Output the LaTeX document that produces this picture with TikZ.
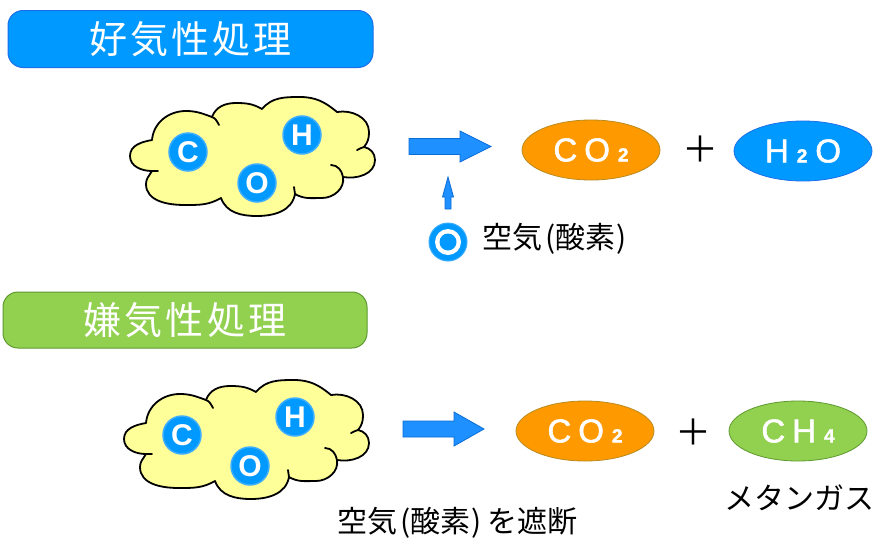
\documentclass[tikz,border=0pt]{standalone}
\usepackage{fontspec}
\setmainfont{Liberation Sans}
\newfontfamily\jp{Noto Sans CJK JP}
\newfontfamily\jpls{Noto Sans CJK JP}[LetterSpace=8]
\newfontfamily\molfont{Liberation Sans}[FakeBold=1.6]
\usetikzlibrary{shapes.geometric}
\definecolor{skyb}{HTML}{0099FF}
\definecolor{atomedge}{HTML}{3DADFF}
\definecolor{titleedge}{HTML}{1A6FE8}
\definecolor{arrowb}{HTML}{1E90FF}
\definecolor{arrowedge}{HTML}{0B6CD6}
\definecolor{orangef}{HTML}{FF9900}
\definecolor{orangee}{HTML}{B88A1E}
\definecolor{greenf}{HTML}{92D050}
\definecolor{greene}{HTML}{5E9A2E}
\definecolor{cloudy}{HTML}{FFFF99}
\newcommand\subdigit[1]{{\fontsize{19}{19}\selectfont\bfseries #1}}
\begin{document}
\begin{tikzpicture}[x=1pt,y=1pt,
  titlebox/.style={rounded corners=15pt, minimum width=365pt, minimum height=57pt, inner sep=0pt, line width=1pt, text=white, font=\jpls\fontsize{38}{38}\selectfont},
  atom/.style={circle, minimum size=38pt, inner sep=0pt, fill=skyb, draw=atomedge, line width=1.5pt, text=white, font=\fontsize{30}{30}\selectfont\bfseries},
  mol/.style={ellipse, minimum width=138pt, minimum height=60pt, inner sep=0pt, line width=0.8pt, text=white, font=\molfont\fontsize{33}{33}\selectfont},
  cloudline/.style={draw=black, line width=1.8pt, fill=cloudy, line join=round},
  cloudstroke/.style={draw=black, line width=1.8pt, line cap=round},
  blockarrow/.style={fill=arrowb, draw=arrowedge, line width=0.8pt, line join=miter},
  jlabel/.style={font=\jp\fontsize{30}{30}\selectfont, inner sep=0pt},
  pics/cloudpic/.style={code={
    \draw[cloudline] (152,-171) to[out=180,in=-90] (130,-156) to[out=90,in=190] (152,-140)
      to[out=85,in=180] (186,-111) to[out=0,in=160] (212,-117)
      to[out=70,in=180] (236,-103) to[out=0,in=150] (262,-109)
      to[out=50,in=180] (300,-97) to[out=0,in=140] (337,-112)
      to[out=10,in=90] (369,-132) to[out=-90,in=50] (364,-147)
      to[out=-10,in=90] (375,-160) to[out=-90,in=-10] (343,-177)
      to[out=-80,in=0] (322,-198) to[out=180,in=-30] (295,-194)
      to[out=-100,in=0] (257,-216) to[out=180,in=-70] (221,-198)
      to[out=-150,in=0] (185,-205) to[out=180,in=-90] (146,-184)
      to[out=90,in=-120] (152,-171) -- cycle;
    \draw[cloudstroke] (212,-117) to[out=-20,in=120] (219,-125);
    \draw[cloudstroke] (364,-147) to[out=190,in=20] (357,-150);
    \draw[cloudstroke] (343,-177) to[out=100,in=0] (331,-165);
    \draw[cloudstroke] (295,-194) -- (294,-187);
    \draw[cloudstroke] (152,-171) -- (158,-171);
  }}
]
\useasboundingbox (0,0) rectangle (877,-538);

% ---------- aerobic ----------
\node[titlebox, fill=skyb, draw=titleedge] (aerobic) at (190.5,-39) {好気性処理};

\pic (cloudA) at (0,0) {cloudpic};
\node[atom] (cA) at (188,-152) {C};
\node[atom] (hA) at (302,-135) {H};
\node[atom] (oA) at (257,-183) {O};

\draw[blockarrow] (409,-138.5) -- (460,-138.5) -- (460,-131) -- (491,-146.5) -- (460,-162) -- (460,-154.5) -- (409,-154.5) -- cycle;

\node[circle, minimum size=38pt, inner sep=0pt, fill=skyb, draw=atomedge, line width=1pt] (air) at (448,-242) {};
\node[circle, minimum size=26pt, inner sep=0pt, fill=white] (airring) at (air) {};
\node[circle, minimum size=17pt, inner sep=0pt, fill=skyb] (aircore) at (air) {};
\draw[blockarrow] (445,-209) -- (445,-197) -- (442.5,-197) -- (448,-177) -- (453.5,-197) -- (451,-197) -- (451,-209) -- cycle;
\node[jlabel, anchor=west] (airlabel) at (482,-239) {空気\kern3pt(酸素\kern1pt)};

\node[mol, fill=orangef, draw=orangee] (co2A) at (591,-150) {C\kern7pt O\kern8pt\subdigit{2}};
\node[jlabel, font=\jp\fontsize{36}{36}\selectfont] (plusA) at (700,-149) {＋};
\node[mol, fill=skyb, draw=titleedge] (h2o) at (803,-151) {H\kern8pt\subdigit{2}\kern8pt O};

% ---------- anaerobic ----------
\node[titlebox, minimum width=364pt, minimum height=56pt, fill=greenf, draw=greene] (anaerobic) at (185,-320) {嫌気性処理};

\pic (cloudB) at (-6,-283) {cloudpic};
\node[atom] (cB) at (182,-435) {C};
\node[atom] (hB) at (295,-417) {H};
\node[atom] (oB) at (250,-466) {O};

\draw[blockarrow] (403,-421) -- (454,-421) -- (454,-412) -- (484,-429) -- (454,-446) -- (454,-437) -- (403,-437) -- cycle;

\node[mol, fill=orangef, draw=orangee] (co2B) at (585,-431) {C\kern7pt O\kern8pt\subdigit{2}};
\node[jlabel, font=\jp\fontsize{36}{36}\selectfont] (plusB) at (693,-432) {＋};
\node[mol, fill=greenf, draw=greene] (ch4) at (798,-431) {C\kern7pt H\kern8pt\subdigit{4}};

\node[jlabel] (methane) at (799,-498) {メタンガス};
\node[jlabel, anchor=west] (cutoff) at (337,-523) {空気\kern3pt(酸素\kern1pt)\kern6pt を遮断};
\end{tikzpicture}
\end{document}
